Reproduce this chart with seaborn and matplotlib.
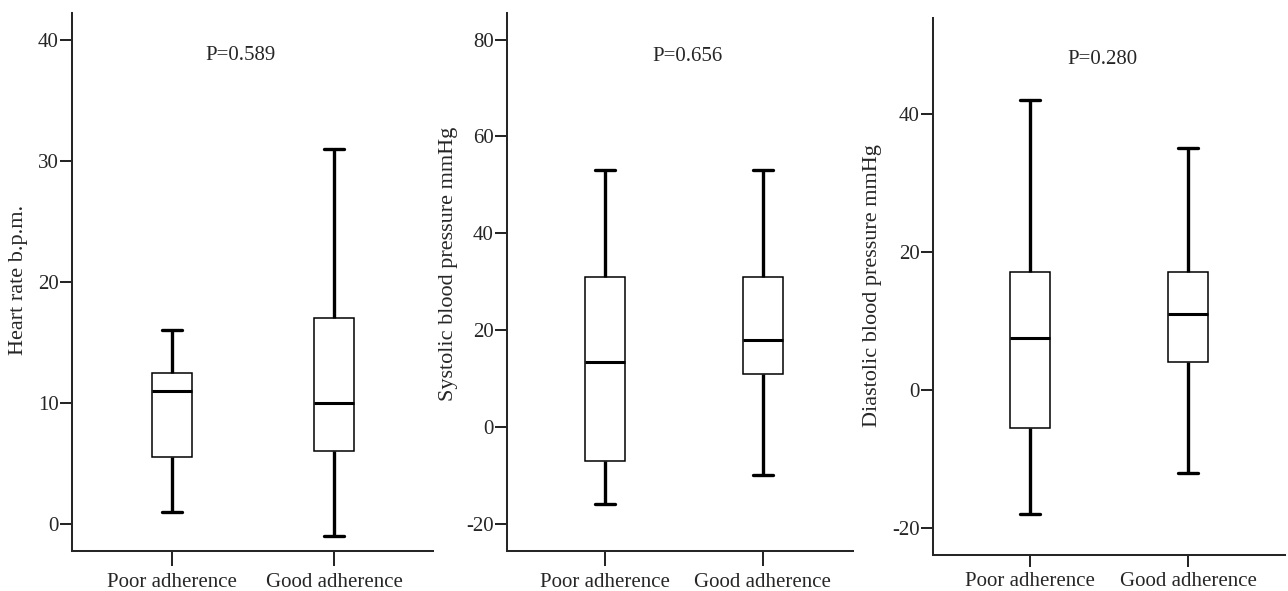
import numpy as np
import pandas as pd
import matplotlib
matplotlib.use("Agg")
import matplotlib.pyplot as plt
import seaborn as sns

categories = ["Poor adherence", "Good adherence"]

# five-number summaries: [min, Q1, median, Q3, max]
hr_poor = [1, 5.5, 11, 12.5, 16]
hr_good = [-1, 6, 10, 17, 31]
sbp_poor = [-16, -7, 13.5, 31, 53]
sbp_good = [-10, 11, 18, 31, 53]
dbp_poor = [-18, -5.5, 7.5, 17, 42]
dbp_good = [-12, 4, 11, 17, 35]

ylabels = ["Heart rate b.p.m.", "Systolic blood pressure mmHg", "Diastolic blood pressure mmHg"]
pvalues = ["P=0.589", "P=0.656", "P=0.280"]
yticks_list = [[0, 10, 20, 30, 40], [-20, 0, 20, 40, 60, 80], [-20, 0, 20, 40]]

sns.set_style("ticks")
plt.rcParams["font.family"] = ["Liberation Serif", "DejaVu Serif"]
plt.rcParams["axes.linewidth"] = 1.45

fig = plt.figure(figsize=(12.88, 5.91), dpi=100)

positions = [
    [0.0559, 0.0677, 0.2800, 0.910],
    [0.3936, 0.0677, 0.2686, 0.910],
    [0.7244, 0.0613, 0.2733, 0.9088],
]
ylims = [(-2.23, 42.18), (-25.6, 85.45), (-23.9, 53.9)]
xlims = [(-0.617, 1.609), (-0.62, 1.57), (-0.614, 1.614)]
ptext_xy = [(0.42, 38.7), (0.52, 76.5), (0.456, 47.8)]
label_coords = [(-0.123, 0.504), (-0.142, 0.534), (-0.145, 0.502)]
xtick_len = [10.5, 10.5, 8.6]
xtick_pad = [5, 5, 4]

datasets = [(hr_poor, hr_good), (sbp_poor, sbp_good), (dbp_poor, dbp_good)]

for i, (poor, good) in enumerate(datasets):
    ax = fig.add_axes(positions[i])
    df = pd.DataFrame({
        "group": [categories[0]] * len(poor) + [categories[1]] * len(good),
        "value": list(poor) + list(good),
    })
    sns.boxplot(
        data=df, x="group", y="value", order=categories, ax=ax,
        whis=(0, 100), width=0.25, showfliers=False,
        color="white", linecolor="black",
        boxprops=dict(facecolor="white", edgecolor="black", linewidth=1.1),
        medianprops=dict(color="black", linewidth=2.2),
        whiskerprops=dict(color="black", linewidth=2.4),
        capprops=dict(color="black", linewidth=2.4),
    )
    ax.set_xlim(*xlims[i])
    ax.set_ylim(*ylims[i])
    ax.set_yticks(yticks_list[i])
    ax.set_yticklabels([str(t) for t in yticks_list[i]])
    ax.set_xlabel("")
    ax.set_ylabel(ylabels[i], fontsize=16)
    ax.yaxis.set_label_coords(*label_coords[i])
    for s in ["top", "right"]:
        ax.spines[s].set_visible(False)
    ax.tick_params(axis="y", direction="out", length=8.6, width=1.45, pad=1, labelsize=15)
    ax.tick_params(axis="x", direction="out", length=xtick_len[i], width=1.45,
                   pad=xtick_pad[i], labelsize=15)
    ax.text(ptext_xy[i][0], ptext_xy[i][1], pvalues[i], ha="center", va="center", fontsize=15)

fig.savefig("out.png", dpi=100)
